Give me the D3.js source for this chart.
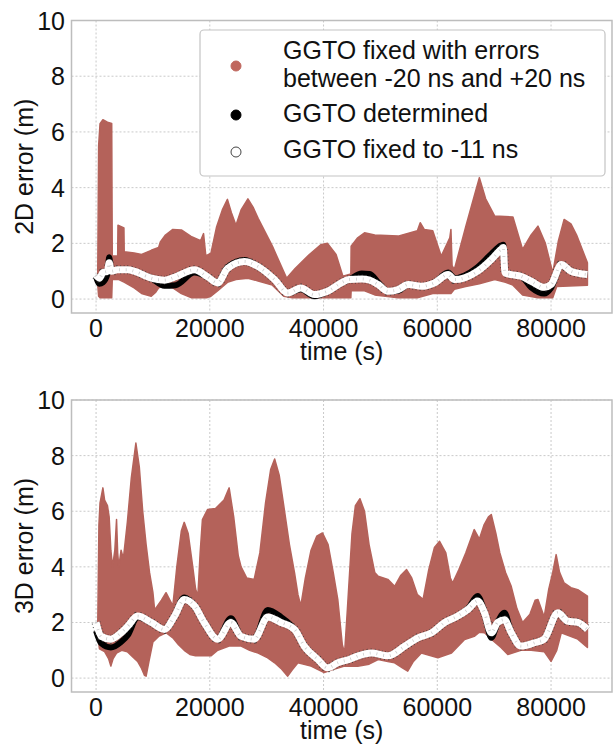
<!DOCTYPE html>
<html>
<head>
<meta charset="utf-8">
<script src="https://cdn.jsdelivr.net/npm/d3@7"></script>
<style>
  body { margin: 0; background: #fff; }
  svg text { font-family: "Liberation Sans", Arial, sans-serif; fill: #111; }
  .grid line { stroke: #c9c9c9; stroke-width: 1; stroke-dasharray: 2,2; }
</style>
</head>
<body>
<div class="viz"></div>
<script>
// x / y ticks
const timeTicks = [0, 20000, 40000, 60000, 80000];
const errTicks = [0, 2, 4, 6, 8, 10];

// ---- 2D error panel ----
// red band (GGTO fixed with errors between -20 and +20 ns): top edge of the cloud
const up2dT = [300, 450, 700, 1200, 2000, 2750, 2850, 3800, 3850, 4900, 4950, 6700, 8000, 9700, 11000,
  11300, 12200, 13500, 15000, 16700, 18400, 18900, 19300, 20200, 21200, 22200, 23100, 23800, 24600,
  25500, 26700, 27600, 28500, 31000, 33500, 35000, 37500, 39500, 40700, 42200, 43400, 44800, 44850,
  46000, 47200, 49000, 53100, 56500, 57000, 57700, 59200, 60700, 62200, 62400, 62600, 63000, 65000,
  66500, 67400, 68500, 70100, 73300, 75000, 76500, 77700, 79000, 80300, 81300, 82300, 83500, 84500, 86400];
const up2d = [1.1, 5.5, 6.3, 6.44, 6.35, 6.3, 1.55, 1.55, 2.65, 2.55, 1.7, 1.65, 1.6, 1.75, 1.85,
  2.05, 2.3, 2.5, 2.48, 2.25, 2.1, 2.35, 1.55, 1.65, 2.6, 3.2, 3.58, 3.1, 2.65,
  3.2, 3.6, 3.3, 2.9, 1.9, 0.75, 1.1, 1.6, 1.95, 2.0, 1.6, 0.82, 0.9, 1.9,
  2.2, 2.38, 2.3, 2.26, 2.45, 2.74, 2.5, 2.45, 1.54, 2.2, 2.5, 1.2, 1.06, 2.6,
  3.7, 4.36, 3.6, 2.98, 2.95, 1.78, 2.3, 2.62, 2.0, 0.94, 2.1, 2.86, 2.7, 2.3, 1.3];
// bottom edge of the cloud
const lo2dT = [300, 450, 700, 2750, 2850, 4000, 5000, 6700, 8000, 9700, 10500, 11000, 12200, 13500, 15000,
  16700, 19400, 20200, 21400, 23100, 24600, 26700, 28500, 31000, 33000, 34500, 44800, 44850, 47200,
  49000, 53100, 56500, 59200, 62400, 63000, 65000, 67400, 70100, 72000, 73300, 75000, 77700, 80300,
  81000, 86400];
const lo2d = [0.5, 0.1, 0.05, 0.05, 0.7, 0.7, 0.6, 0.4, 0.2, 0.1, 0.25, 0.4, 0.5, 0.4, 0.2,
  0.05, 0.05, 0.1, 0.3, 0.6, 0.7, 0.75, 0.65, 0.5, 0.1, 0.05, 0.05, 0.3, 0.3,
  0.15, 0.05, 0.05, 0.2, 0.2, 0.35, 0.45, 0.55, 0.7, 0.6, 0.5, 0.15, 0.05, 0.05,
  0.45, 0.5];
// GGTO fixed to -11 ns / GGTO determined
const s2dT = [0, 600, 1200, 2000, 2300, 2700, 3800, 5600, 6700, 8500, 9700, 12000, 14000, 17300, 19600,
  21400, 23100, 26100, 28400, 31400, 33700, 36000, 38400, 40700, 43100, 44500, 46700, 48100, 49600,
  51300, 53100, 54900, 57200, 59500, 61900, 63000, 64800, 67100, 69500, 71200, 71600, 71900, 73000,
  74700, 76500, 78800, 80000, 81800, 83500, 86400];
const fixed2d = [0.85, 0.75, 0.95, 1.0, 1.3, 1.0, 1.05, 1.05, 1.0, 0.85, 0.75, 0.68, 0.8, 1.05, 0.8,
  0.58, 1.1, 1.35, 1.18, 0.7, 0.22, 0.4, 0.16, 0.28, 0.58, 0.7, 0.72, 0.68, 0.52,
  0.28, 0.34, 0.52, 0.46, 0.58, 0.88, 0.7, 0.76, 1.0, 1.42, 1.78, 1.85, 0.94, 0.88,
  0.82, 0.64, 0.42, 0.52, 1.24, 1.0, 0.88];
const det2d = [0.8, 0.55, 0.6, 0.9, 1.5, 1.0, 1.05, 1.05, 1.0, 0.85, 0.75, 0.48, 0.5, 0.95, 0.8,
  0.58, 1.15, 1.4, 1.18, 0.7, 0.22, 0.35, 0.1, 0.28, 0.58, 0.7, 0.92, 0.9, 0.6,
  0.28, 0.3, 0.52, 0.46, 0.58, 0.95, 0.75, 0.85, 1.15, 1.62, 1.92, 1.95, 0.94, 0.88,
  0.82, 0.42, 0.2, 0.4, 1.24, 1.0, 0.88];

// ---- 3D error panel ----
const up3dT = [300, 500, 700, 1200, 1500, 2000, 2300, 2600, 2900, 3300, 3600, 3800, 4000, 4400, 4800,
  5500, 6200, 7000, 7600, 8200, 8800, 9400, 10000, 10300, 11500, 12300, 13500, 14200, 15000, 15500,
  16200, 17000, 17500, 17900, 18300, 18700, 19600, 21000, 22500, 23400, 24200, 25000, 25500, 26500,
  27800, 28800, 29800, 30700, 31400, 32200, 33000, 34000, 34900, 35500, 36000, 36800, 37800, 38800,
  39800, 40800, 41700, 42500, 43300, 43700, 44200, 45000, 45600, 46400, 47200, 48000, 49000, 49600,
  51300, 52500, 53600, 54600, 55500, 56500, 57500, 58500, 59500, 60400, 61500, 62300, 62700, 63800,
  65000, 66500, 67400, 68200, 69000, 69500, 70300, 71000, 72000, 73000, 74000, 75000, 76300, 77200,
  77700, 78800, 79600, 80300, 80900, 81500, 82300, 83500, 84700, 86400];
const up3d = [2.0, 5.5, 6.3, 6.84, 6.4, 6.2, 5.8, 4.6, 4.0, 4.6, 5.7, 4.5, 4.0, 4.6, 4.3,
  5.6, 7.2, 8.45, 7.6, 6.0, 4.8, 3.8, 3.07, 2.45, 2.8, 3.07, 2.6, 4.0, 5.3, 5.6,
  5.2, 4.0, 3.2, 2.95, 4.5, 5.7, 6.06, 6.1, 6.4, 6.84, 5.8, 4.4, 4.0, 3.6,
  3.55, 4.5, 6.3, 7.5, 7.88, 7.3, 6.2, 4.8, 3.78, 3.0, 2.6, 3.6, 4.6, 5.1,
  5.22, 4.8, 3.8, 2.83, 1.2, 0.9, 2.5, 5.2, 6.2, 6.45, 6.0, 4.8, 3.8, 3.66,
  3.55, 3.3, 3.7, 3.9, 3.6, 3.0, 2.83, 3.9, 4.7, 4.92, 4.5, 3.6, 3.42, 3.9,
  4.5, 5.34, 5.0, 5.5, 5.8, 5.88, 5.2, 4.5, 3.8, 3.3, 2.5, 2.0, 2.3, 2.8,
  2.83, 2.2, 3.2, 3.8, 4.44, 3.8, 3.42, 3.25, 3.18, 2.95];
const lo3dT = [300, 600, 1500, 2200, 2600, 3000, 3600, 4500, 5500, 6500, 7300, 8000, 8500, 8800, 9300,
  10000, 11000, 12300, 13500, 14500, 15500, 16500, 17500, 19000, 20200, 21400, 23400, 25500, 27000,
  28500, 30000, 31400, 32500, 33700, 34500, 35500, 37800, 40100, 41500, 43700, 46000, 48000, 49600,
  51300, 52500, 54000, 54800, 55800, 57200, 60100, 62500, 64800, 66500, 67400, 68300, 69500, 71200,
  72400, 74700, 76500, 78800, 80000, 81000, 81800, 84700, 86400];
const lo3d = [1.5, 1.05, 0.95, 0.7, 0.43, 0.7, 0.9, 1.0, 0.95, 0.75, 0.6, 0.35, 0.1, 0.07, 0.6,
  1.3, 1.5, 1.63, 1.45, 1.2, 1.0, 0.85, 0.8, 0.8, 0.8, 1.0, 1.15, 1.15, 1.0,
  0.9, 0.75, 0.55, 0.35, 0.07, 0.3, 0.55, 0.43, 0.2, 0.3, 0.43, 0.43, 0.5, 0.67,
  0.6, 0.55, 0.35, 0.25, 0.6, 0.9, 0.73, 0.9, 1.39, 1.5, 1.65, 1.63, 1.4, 1.1,
  0.85, 1.0, 1.0, 0.95, 0.6, 1.0, 1.63, 1.4, 1.1];
const s3dT = [0, 900, 2600, 4400, 5600, 7300, 9700, 12000, 13800, 15500, 17300, 19000, 21400, 23700,
  25500, 27800, 30200, 32500, 34900, 36600, 39000, 40700, 42500, 44500, 46100, 48400, 51300, 54300,
  56600, 59000, 61300, 63600, 65400, 67100, 68300, 69500, 70600, 71800, 73000, 74700, 77100, 78800,
  81200, 82900, 84700, 86400];
const fixed3d = [2.0, 1.5, 1.4, 1.63, 1.87, 2.23, 2.0, 1.75, 2.23, 2.83, 2.6, 2.0, 1.4, 2.0,
  1.5, 1.4, 2.2, 2.0, 1.75, 1.15, 0.67, 0.37, 0.55, 0.67, 0.8, 0.9, 0.8, 1.15,
  1.45, 1.63, 2.0, 2.23, 2.47, 2.77, 2.35, 1.63, 2.0, 2.1, 1.63, 1.15, 1.27, 1.4,
  2.35, 2.05, 2.0, 1.75];
const det3d = [1.7, 1.25, 1.1, 1.3, 1.55, 2.2, 2.0, 1.75, 2.23, 2.9, 2.6, 2.0, 1.4, 2.15,
  1.5, 1.4, 2.45, 2.2, 1.75, 1.15, 0.67, 0.37, 0.55, 0.67, 0.8, 0.9, 0.8, 1.15,
  1.45, 1.63, 2.0, 2.23, 2.5, 2.95, 2.35, 1.45, 2.0, 2.35, 1.63, 1.15, 1.27, 1.4,
  2.35, 2.05, 2.0, 1.75];

const legendLabels = [["GGTO fixed with errors", "between -20 ns and +20 ns"], ["GGTO determined"], ["GGTO fixed to -11 ns"]];

const W = 613, H = 744;
const red = "#b4625a";
const frameLeft = 71.5, frameRight = 612;

const svg = d3.select(".viz").append("svg")
    .attr("width", W)
    .attr("height", H);

const x = d3.scaleLinear().domain([-4320, 90720]).range([frameLeft, frameRight]);

const panels = [
  {top: 20.5, bottom: 313, label: "2D error (m)",
   upT: up2dT, up: up2d, loT: lo2dT, lo: lo2d, sT: s2dT, fixed: fixed2d, det: det2d},
  {top: 400, bottom: 692, label: "3D error (m)",
   upT: up3dT, up: up3d, loT: lo3dT, lo: lo3d, sT: s3dT, fixed: fixed3d, det: det3d}
];

panels.forEach(function(p) {
    const y = d3.scaleLinear().domain([-0.5, 10]).range([p.bottom, p.top]);
    const g = svg.append("g");

    // grid
    const grid = g.append("g").attr("class", "grid");
    grid.selectAll(".gx").data(timeTicks).enter().append("line")
        .attr("x1", d => x(d)).attr("x2", d => x(d))
        .attr("y1", p.top).attr("y2", p.bottom);
    grid.selectAll(".gy").data(errTicks).enter().append("line")
        .attr("x1", frameLeft).attr("x2", frameRight)
        .attr("y1", d => y(d)).attr("y2", d => y(d));

    // red cloud: top edge forward, bottom edge back
    const line = d3.line().x(d => x(d[0])).y(d => y(d[1]));
    const upper = p.upT.map((t, i) => [t, p.up[i]]);
    const lower = p.loT.map((t, i) => [t, p.lo[i]]).reverse();
    g.append("path")
        .attr("fill", red)
        .attr("stroke", red)
        .attr("stroke-width", 1.5)
        .attr("stroke-linejoin", "round")
        .attr("d", line(upper) + line(lower).replace(/^M/, "L") + "Z");

    // GGTO determined (black) under GGTO fixed to -11 ns (white)
    const det = p.sT.map((t, i) => [t, p.det[i]]);
    const fix = p.sT.map((t, i) => [t, p.fixed[i]]);
    const smooth = d3.line().x(d => x(d[0])).y(d => y(d[1])).curve(d3.curveMonotoneX);
    g.append("path").datum(det)
        .attr("fill", "none").attr("stroke", "#000").attr("stroke-width", 6)
        .attr("stroke-linejoin", "round")
        .attr("d", smooth);
    g.append("path").datum(fix)
        .attr("fill", "none").attr("stroke", "#333").attr("stroke-width", 9)
        .attr("stroke-opacity", 0.75)
        .attr("stroke-dasharray", "1,2.5")
        .attr("stroke-linejoin", "round")
        .attr("d", smooth);
    g.append("path").datum(fix)
        .attr("fill", "none").attr("stroke", "#fff").attr("stroke-width", 7)
        .attr("stroke-linejoin", "round")
        .attr("d", smooth);
    g.append("path").datum(fix)
        .attr("fill", "none").attr("stroke", "#999").attr("stroke-width", 3)
        .attr("stroke-opacity", 0.5)
        .attr("stroke-dasharray", "0.8,6")
        .attr("d", smooth);

    // frame
    g.append("rect")
        .attr("x", frameLeft).attr("y", p.top)
        .attr("width", frameRight - frameLeft).attr("height", p.bottom - p.top)
        .attr("fill", "none").attr("stroke", "#bdbdbd").attr("stroke-width", 1.5);

    // tick labels
    g.selectAll(".yt").data(errTicks).enter().append("text")
        .attr("x", 65).attr("y", d => y(d) + 9)
        .attr("text-anchor", "end")
        .attr("font-size", 25)
        .text(d => d);
    g.selectAll(".xt").data(timeTicks).enter().append("text")
        .attr("x", d => x(d)).attr("y", p.bottom + 24)
        .attr("text-anchor", "middle")
        .attr("font-size", 25)
        .text(d => d);

    // axis labels
    g.append("text")
        .attr("transform", "translate(33," + ((p.top + p.bottom) / 2) + ")rotate(-90)")
        .attr("text-anchor", "middle")
        .attr("font-size", 25)
        .text(p.label);
    g.append("text")
        .attr("x", (frameLeft + frameRight) / 2).attr("y", p.bottom + 47)
        .attr("text-anchor", "middle")
        .attr("font-size", 25)
        .text("time (s)");
});

// legend
const lg = svg.append("g");
lg.append("rect")
    .attr("x", 200).attr("y", 30).attr("width", 405).attr("height", 146)
    .attr("rx", 4)
    .attr("fill", "#fff").attr("stroke", "#c4c4c4").attr("stroke-width", 1.2);
const markers = [
  {cy: 66, fill: "#c0675e", stroke: "#c0675e"},
  {cy: 115, fill: "#000", stroke: "#000"},
  {cy: 152, fill: "#fff", stroke: "#444"}
];
const baselines = [[59, 87], [122], [158]];
markers.forEach(function(m, i) {
    lg.append("circle").attr("cx", 236).attr("cy", m.cy).attr("r", 5)
        .attr("fill", m.fill).attr("stroke", m.stroke).attr("stroke-width", 1);
    legendLabels[i].forEach(function(s, j) {
        lg.append("text").attr("x", 283).attr("y", baselines[i][j])
            .attr("font-size", 25)
            .text(s);
    });
});
</script>
</body>
</html>
